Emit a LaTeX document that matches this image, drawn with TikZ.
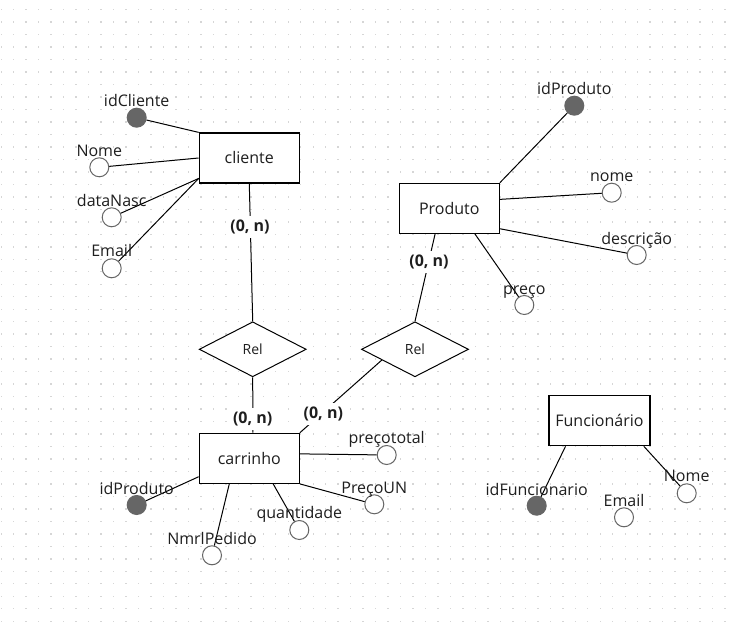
\documentclass[tikz,border=0pt]{standalone}
\usepackage{fontspec}
\setmainfont{Open Sans}
\usetikzlibrary{shapes.geometric,calc}
\definecolor{keyfill}{HTML}{666666}
\definecolor{attrline}{HTML}{666666}
\definecolor{griddot}{HTML}{D6D6D6}
\definecolor{txt}{HTML}{1E1E1E}
\begin{document}
\begin{tikzpicture}[x=1pt,y=-1pt,
  entity/.style={draw=black, line width=1.2pt, minimum width=100pt, minimum height=50pt, fill=white, inner sep=0pt, font=\fontsize{16}{19}\selectfont, text=txt},
  relship/.style={diamond, aspect=1.95, draw=black, line width=1pt, minimum width=107pt, minimum height=55pt, inner sep=0pt, fill=white, font=\fontsize{14}{17}\selectfont, text=txt},
  attr/.style={circle, draw=attrline, line width=1pt, minimum size=19pt, inner sep=0pt, fill=white},
  keyattr/.style={circle, draw=keyfill, fill=keyfill, line width=1pt, minimum size=19pt, inner sep=0pt},
  lbl/.style={font=\fontsize{16}{19}\selectfont, text=txt, inner sep=0pt, text height=11.6pt, text depth=0pt},
  card/.style={font=\bfseries\fontsize{16}{19}\selectfont, text=txt, fill=white, inner sep=4pt},
  link/.style={line width=1pt, draw=black}]
\useasboundingbox (0,0) rectangle (737,631);
\fill[white] (0,0) rectangle (737,631);
% dotted grid
\foreach \i in {0,...,59}{
  \foreach \j in {0,...,49}{
    \fill[griddot] ({0.5+12.48*\i},{9+12.48*\j}) rectangle ++(1.4,1.4);
  }
}
% entities
\node[entity] (cliente) at (249.3,158) {cliente};
\node[entity] (produto) at (449.3,208.3) {Produto};
\node[entity] (carrinho) at (249.3,458.3) {carrinho};
\node[entity, minimum width=101pt] (func) at (599.5,420.7) {Funcionário};
% relationships
\node[relship] (rel1) at (252.7,349.3) {Rel};
\node[relship] (rel2) at (415,349.3) {Rel};
% attributes: cliente
\node[keyattr] (kIdCli) at (136.7,117.7) {};
\node[attr] (aNome) at (99.3,167.3) {};
\node[attr] (aData) at (111.7,217.3) {};
\node[attr] (aEmail) at (111.7,268.3) {};
% attributes: produto
\node[keyattr] (kIdProd) at (574.3,105.7) {};
\node[attr] (aNomeP) at (611.7,192.7) {};
\node[attr] (aDesc) at (636.7,255) {};
\node[attr] (aPreco) at (524.3,305) {};
% attributes: carrinho
\node[attr] (aPtot) at (386.7,455) {};
\node[attr] (aPun) at (374.3,504.3) {};
\node[attr] (aQtd) at (299.3,530) {};
\node[attr] (aNmr) at (212,555.3) {};
\node[keyattr] (kIdProdC) at (136.7,505) {};
% attributes: funcionario
\node[keyattr] (kIdF) at (536.7,505.7) {};
\node[attr] (aEmailF) at (624,517.3) {};
\node[attr] (aNomeF) at (686.7,493.3) {};
% connectors
\draw[link] (kIdCli) -- (cliente.north west);
\draw[link] (aNome) -- (cliente.west);
\draw[link] (aData) -- (cliente.202);
\draw[link] (aEmail) -- (cliente.202);
\draw[link] (cliente.south) -- (rel1.north);
\draw[link] (rel1.south) -- (carrinho.82);
\draw[link] (produto.241) -- (rel2.north);
\draw[link] (rel2.198) -- (carrinho.north east);
\draw[link] (produto.north east) -- (kIdProd);
\draw[link] (produto.10) -- (aNomeP);
\draw[link] (produto.338) -- (aDesc);
\draw[link] (produto.315) -- (aPreco);
\draw[link] (carrinho.5) -- (aPtot);
\draw[link] (carrinho.south east) -- (aPun);
\draw[link] (carrinho.313) -- (aQtd);
\draw[link] (carrinho.232) -- (aNmr);
\draw[link] (carrinho.200) -- (kIdProdC);
\draw[link] (func.217) -- (kIdF);
\draw[link] (func.330) -- (aNomeF);
% cardinalities
\node[card] (card1) at (250,226.7) {(0, n)};
\node[card] (card2) at (429,262.3) {(0, n)};
\node[card] (card3) at (252.7,419) {(0, n)};
\node[card] (card4) at (323.3,413.7) {(0, n)};
% attribute labels
\node[lbl] (tIdCli) at (136.7,100.7) {idCliente};
\node[lbl] (tNome) at (99.3,151) {Nome};
\node[lbl] (tData) at (111.7,200.7) {dataNasc};
\node[lbl] (tEmail) at (111.7,251) {Email};
\node[lbl] (tIdProd) at (574.3,89) {idProduto};
\node[lbl] (tNomeP) at (611.7,176) {nome};
\node[lbl] (tDesc) at (636.7,238.3) {descrição};
\node[lbl] (tPreco) at (524.3,289) {preço};
\node[lbl] (tPtot) at (386.7,437.7) {preçototal};
\node[lbl] (tPun) at (374.3,487.7) {PreçoUN};
\node[lbl] (tQtd) at (299.3,512.7) {quantidade};
\node[lbl] (tNmr) at (212,538.3) {NmrlPedido};
\node[lbl] (tIdProdC) at (136.7,488.3) {idProduto};
\node[lbl] (tIdF) at (536.7,489.3) {idFuncionario};
\node[lbl] (tEmailF) at (624,500.7) {Email};
\node[lbl] (tNomeF) at (686.7,476) {Nome};
\end{tikzpicture}
\end{document}
